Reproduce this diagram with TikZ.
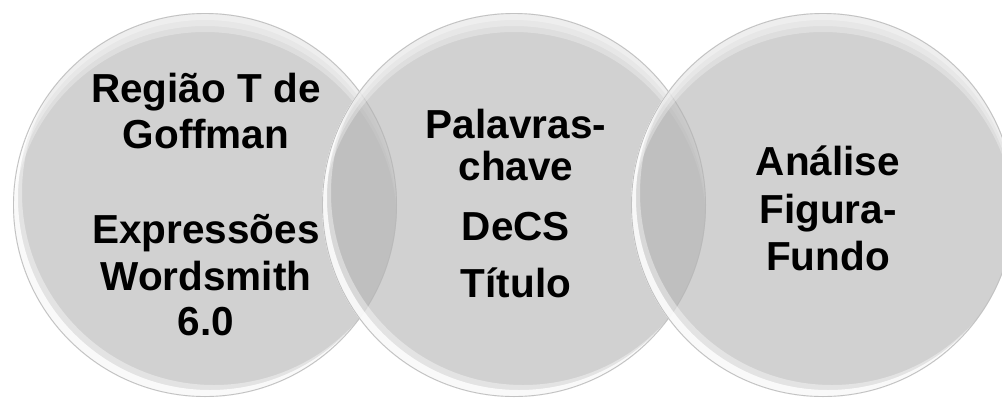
\documentclass[tikz,border=0pt]{standalone}
\usepackage{fontspec}
\setmainfont{Liberation Sans}
\definecolor{discfill}{gray}{0.71}
\definecolor{discedge}{gray}{0.76}
\tikzset{
  lbl/.style={font=\bfseries\fontsize{40.5}{46}\selectfont, anchor=base, inner sep=0pt, text=black},
}
\newcommand\glassdisc[2]{%
  \fill[discfill, fill opacity=0.62] (#1,#2) circle (192pt);
  \begin{scope}
    \clip (#1,#2) circle (192pt);
    \foreach \s in {19,13,7}{
      \fill[white, fill opacity=0.3, even odd rule] (#1,#2) circle (192pt) ({#1},{#2+\s}) circle (192pt);
    }
    \fill[white, fill opacity=0.4, even odd rule] (#1,#2) circle (192pt) ({#1+9},{#2-12}) circle (192pt);
    \fill[white, fill opacity=0.8, even odd rule] (#1,#2) circle (192pt) ({#1+5},{#2-7}) circle (192pt);
  \end{scope}
  \draw[discedge, line width=0.9pt] (#1,#2) circle (191.5pt);
}
\begin{document}
\begin{tikzpicture}[x=1pt,y=-1pt]
  \useasboundingbox (0,0) rectangle (1002,400);
  \clip (0,0) rectangle (1002,400);
  \fill[white] (0,0) rectangle (1002,400);
  \glassdisc{205}{205}
  \glassdisc{514}{205}
  \glassdisc{823}{205}
  % left circle text
  \node[lbl] (l1) at (206,102) {Região T de};
  \node[lbl] (l2) at (206,148) {Goffman};
  \node[lbl] (l3) at (206,243) {Expressões};
  \node[lbl] (l4) at (206,290) {Wordsmith};
  \node[lbl] (l5) at (206,335) {6.0};
  % middle circle text
  \node[lbl] (m1) at (516,138) {Palavras-};
  \node[lbl] (m2) at (516,180) {chave};
  \node[lbl] (m3) at (516,240) {DeCS};
  \node[lbl] (m4) at (516,297) {Título};
  % right circle text
  \node[lbl] (r1) at (828,175) {Análise};
  \node[lbl] (r2) at (828,223) {Figura-};
  \node[lbl] (r3) at (828,270) {Fundo};
\end{tikzpicture}
\end{document}
